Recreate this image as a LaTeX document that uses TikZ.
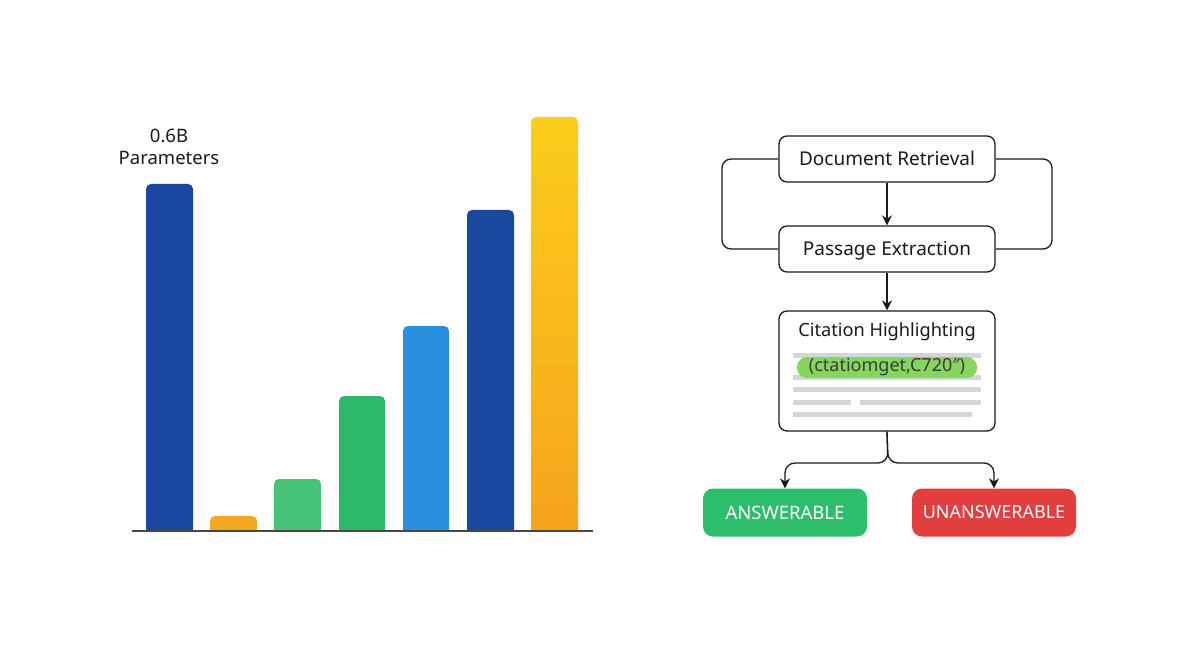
\documentclass[tikz,border=0pt]{standalone}
\usepackage{fontspec}
\setmainfont{Noto Sans}
\usetikzlibrary{arrows.meta}
\definecolor{dblue}{HTML}{1A47A0}
\definecolor{orng}{HTML}{F5A623}
\definecolor{lgreen}{HTML}{46C279}
\definecolor{mgreen}{HTML}{2DB96A}
\definecolor{lblue}{HTML}{2B8FE0}
\definecolor{ytop}{HTML}{FCCD1C}
\definecolor{ybot}{HTML}{F6A41C}
\definecolor{ansgreen}{HTML}{2DBE6C}
\definecolor{unred}{HTML}{E33E3E}
\definecolor{hlgreen}{HTML}{86D55C}
\definecolor{txt}{HTML}{1A1A1A}
\definecolor{lgray}{HTML}{D6D6D6}
\begin{document}
\begin{tikzpicture}[x=1pt,y=-1pt,
  flowbox/.style={draw=txt, line width=1.3pt, rounded corners=8pt, fill=white,
    minimum width=216pt, minimum height=46pt, inner sep=0pt, text=txt,
    text height=17pt, text depth=4pt, font=\fontsize{19}{22}\selectfont},
  outbox/.style={rounded corners=10pt, minimum width=164pt, minimum height=48pt,
    inner sep=0pt, text=white, font=\fontsize{18.5}{22}\selectfont},
  conn/.style={draw=txt, line width=1.3pt},
  arr/.style={conn, -{Stealth[length=10pt,width=10pt]}},
  grayline/.style={draw=lgray, line width=5pt},
  barshape/.style={rounded corners=5pt}
]
\useasboundingbox (0,0) rectangle (1200,655);
\fill[white] (0,0) rectangle (1200,655);

% ---- bar chart ----
\newcommand{\mybar}[4]{% x1 x2 top color
  \fill[#4, barshape] (#1,#3) rectangle (#2,531);
  \fill[#4] (#1,{(#3+531)/2}) rectangle (#2,531);
}
\mybar{146}{193}{184}{dblue}
\mybar{210}{257}{516}{orng}
\mybar{274}{321}{479}{lgreen}
\mybar{339}{385}{396}{mgreen}
\mybar{403}{449}{326}{lblue}
\mybar{467}{514}{210}{dblue}
\shade[top color=ytop, bottom color=ybot, barshape] (531,117) rectangle (578,531);
\fill[ybot] (531,520) rectangle (578,531);
\draw[line width=1.3pt, draw=txt!80] (132,531) -- (593,531);
\node[text=txt, font=\fontsize{18.5}{22}\selectfont, align=center] (plabel) at (169,147) {0.6B\\Parameters};

% ---- flowchart ----
\node[flowbox] (doc) at (887,159) {Document Retrieval};
\node[flowbox] (pass) at (887,249) {Passage Extraction};
\node[flowbox, minimum height=120pt] (cit) at (887,371) {};
\node[text=txt, font=\fontsize{18.2}{22}\selectfont] (cittitle) at (887,332) {Citation Highlighting};

\draw[conn, rounded corners=9pt] (doc.west) -- (722,159) -- (722,249) -- (pass.west);
\draw[conn, rounded corners=9pt] (doc.east) -- (1052,159) -- (1052,249) -- (pass.east);
\draw[arr] (doc) -- (pass);
\draw[arr] (pass) -- (cit);

% document lines
\draw[grayline] (793,355) -- (981,355);
\draw[grayline] (793,377) -- (981,377);
\draw[grayline] (793,389) -- (981,389);
\draw[grayline] (793,402) -- (851,402);
\draw[grayline] (860,402) -- (981,402);
\draw[grayline] (793,414) -- (972,414);
\node[fill=hlgreen, rounded corners=10pt, minimum width=180pt, minimum height=21pt, inner sep=0pt,
  text=txt!85, font=\fontsize{18}{20}\selectfont] (hl) at (887,367.5) {(ctatiomget,C720″)};

% outcomes
\node[outbox, fill=ansgreen] (ans) at (785,512.5) {ANSWERABLE};
\node[outbox, fill=unred, font=\fontsize{18}{22}\selectfont] (unans) at (994,512.5) {UNANSWERABLE};
\coordinate (br) at (888,463);
\draw[arr, rounded corners=10pt] (cit.south) -- (br) -- (ans.north |- br) -- (ans.north);
\draw[arr, rounded corners=10pt] (cit.south) -- (br) -- (unans.north |- br) -- (unans.north);
\end{tikzpicture}
\end{document}
